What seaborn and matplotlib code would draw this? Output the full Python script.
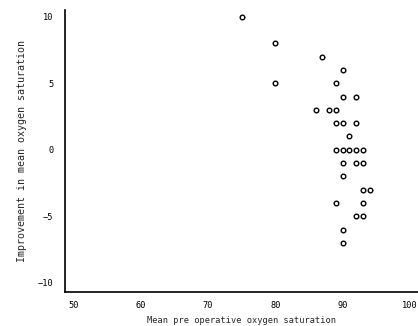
import matplotlib
matplotlib.use('Agg')
from matplotlib import pyplot as plt
import seaborn as sns
import pandas as pd

# values
pre_op_saturation = [75, 80, 80, 87, 90, 89, 90, 92, 86, 88, 89, 89, 90, 92, 91,
                     89, 90, 91, 92, 93, 90, 92, 93, 90, 93, 94, 89, 93, 92, 93, 90, 90]
improvement = [10, 8, 5, 7, 6, 5, 4, 4, 3, 3, 3, 2, 2, 2, 1,
               0, 0, 0, 0, 0, -1, -1, -1, -2, -3, -3, -4, -4, -5, -5, -6, -7]
x_ticks = [50, 60, 70, 80, 90, 100]
y_ticks = [-10, -5, 0, 5, 10]

df = pd.DataFrame({'pre': pre_op_saturation, 'impr': improvement})

sns.set_style('white')
plt.rcParams['font.family'] = ['DejaVu Sans Mono']

fig = plt.figure(figsize=(4.18, 3.26), dpi=100)
ax = fig.add_axes([0.156, 0.104, 0.844, 0.865])

sns.scatterplot(data=df, x='pre', y='impr', ax=ax, marker='o', s=11,
                facecolor='white', edgecolor='black', linewidth=1.0)

ax.set_xlim(48.8, 101.2)
ax.set_ylim(-10.7, 10.5)
ax.set_xticks(x_ticks)
ax.set_yticks(y_ticks)
ax.tick_params(labelsize=6.2, length=3, width=0.8, direction='inout', colors='black')
ax.tick_params(axis='y', pad=7)
ax.tick_params(axis='x', pad=5)

sns.despine(ax=ax)
for side in ['left', 'bottom']:
    ax.spines[side].set_color('black')
    ax.spines[side].set_linewidth(1.2)

ax.set_xlabel('Mean pre operative oxygen saturation', fontsize=6.2, labelpad=4)
ax.set_ylabel('Improvement in mean oxygen saturation', fontsize=7.2, labelpad=8)

fig.savefig('out.png', dpi=100)
